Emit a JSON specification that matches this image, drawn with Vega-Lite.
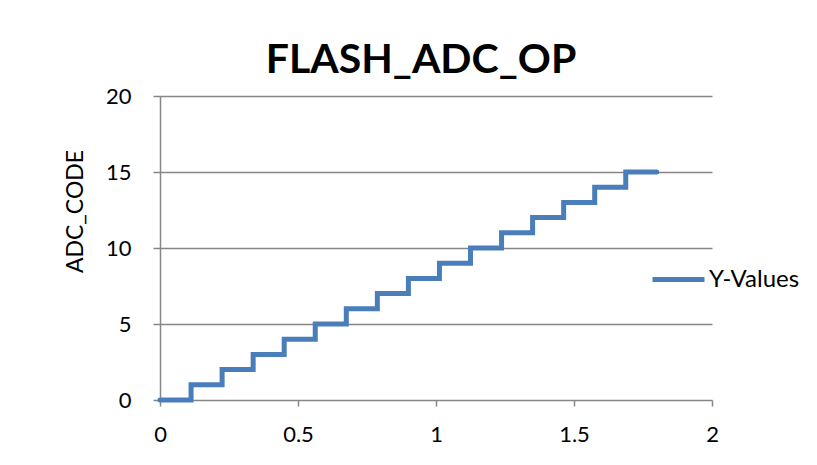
{
  "$schema": "https://vega.github.io/schema/vega-lite/v6.json",
  "autosize": {"type": "none"},
  "width": 552,
  "height": 304,
  "padding": {"left": 160, "top": 96, "right": 105, "bottom": 65},
  "background": "white",
  "config": {
    "view": {"stroke": null},
    "font": "Lato",
    "axis": {"labelFont": "Lato", "titleFont": "Lato", "labelColor": "black", "titleColor": "black"}
  },
  "title": {
    "text": "FLASH_ADC_OP",
    "font": "Lato",
    "fontSize": 41,
    "fontWeight": "bold",
    "color": "black",
    "anchor": "middle",
    "frame": "group",
    "dx": -15,
    "offset": 3
  },
  "data": {
    "values": [
      {"x": 0, "y": 0, "s": "Y-Values"},
      {"x": 0.1125, "y": 1, "s": "Y-Values"},
      {"x": 0.225, "y": 2, "s": "Y-Values"},
      {"x": 0.3375, "y": 3, "s": "Y-Values"},
      {"x": 0.45, "y": 4, "s": "Y-Values"},
      {"x": 0.5625, "y": 5, "s": "Y-Values"},
      {"x": 0.675, "y": 6, "s": "Y-Values"},
      {"x": 0.7875, "y": 7, "s": "Y-Values"},
      {"x": 0.9, "y": 8, "s": "Y-Values"},
      {"x": 1.0125, "y": 9, "s": "Y-Values"},
      {"x": 1.125, "y": 10, "s": "Y-Values"},
      {"x": 1.2375, "y": 11, "s": "Y-Values"},
      {"x": 1.35, "y": 12, "s": "Y-Values"},
      {"x": 1.4625, "y": 13, "s": "Y-Values"},
      {"x": 1.575, "y": 14, "s": "Y-Values"},
      {"x": 1.6875, "y": 15, "s": "Y-Values"},
      {"x": 1.8, "y": 15, "s": "Y-Values"}
    ]
  },
  "mark": {"type": "line", "interpolate": "step-after", "strokeWidth": 5, "strokeCap": "round", "strokeJoin": "miter"},
  "encoding": {
    "x": {
      "field": "x",
      "type": "quantitative",
      "scale": {"domain": [0, 2], "nice": false},
      "axis": {
        "values": [0, 0.5, 1, 1.5, 2],
        "format": "~g",
        "grid": false,
        "title": null,
        "domain": false,
        "ticks": true,
        "tickColor": "#868686",
        "tickWidth": 1.5,
        "tickSize": 6,
        "labelFontSize": 22,
        "labelPadding": 18,
        "labelFlush": false
      }
    },
    "y": {
      "field": "y",
      "type": "quantitative",
      "scale": {"domain": [0, 20], "nice": false},
      "axis": {
        "values": [0, 5, 10, 15, 20],
        "grid": true,
        "gridColor": "#868686",
        "gridWidth": 1.5,
        "gridOpacity": 1,
        "domain": true,
        "domainColor": "#868686",
        "domainWidth": 1.5,
        "tickColor": "#868686",
        "tickWidth": 1.5,
        "tickSize": 7,
        "labelFontSize": 22,
        "labelPadding": 22,
        "labelFlush": false,
        "title": "ADC_CODE",
        "titleFontSize": 23,
        "titleFontWeight": "normal",
        "titleX": -85,
        "titleY": 115,
        "titleAngle": -90,
        "titleAlign": "center",
        "titleBaseline": "middle"
      }
    },
    "color": {
      "field": "s",
      "type": "nominal",
      "scale": {"range": ["#4a7ebb"]},
      "legend": {
        "title": null,
        "orient": "none",
        "legendX": 490,
        "legendY": 155,
        "symbolType": "stroke",
        "symbolSize": 2700,
        "symbolStrokeWidth": 5,
        "labelFontSize": 24,
        "labelFont": "Lato",
        "labelColor": "black",
        "labelOffset": 2
      }
    }
  }
}
